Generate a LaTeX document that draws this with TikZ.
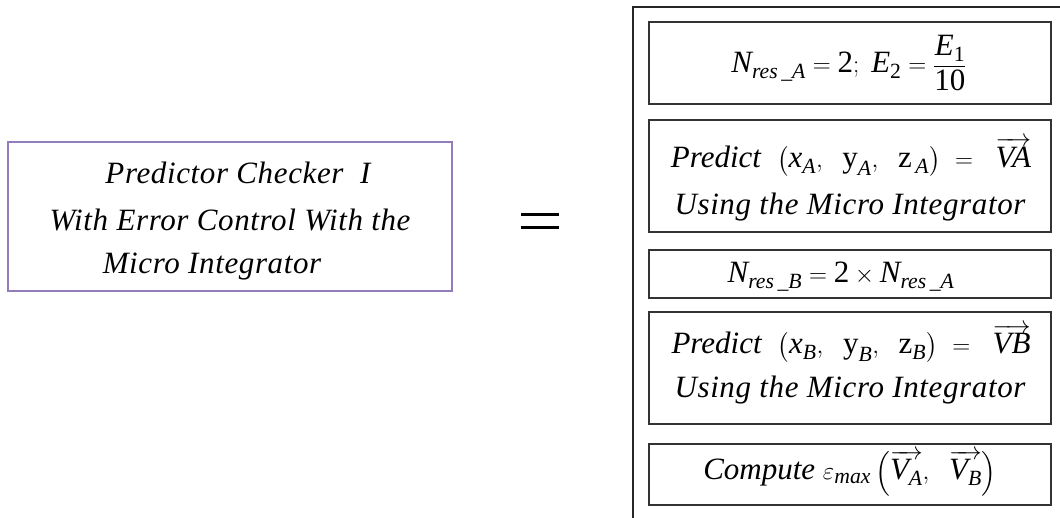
\documentclass[tikz,border=0pt]{standalone}
\usepackage{amsmath}
\usepackage{fontspec}
\setmainfont{Liberation Serif}
\newfontfamily\spacedfont[LetterSpace=2]{Liberation Serif}
\newcommand{\mi}[1]{\textit{#1}}
\newcommand{\mup}[1]{\textup{#1}}
\definecolor{lavender}{RGB}{145,125,185}

\begin{document}
\begin{tikzpicture}[x=1pt,y=-1pt,
  stepbox/.style={draw=black!80,line width=1.6pt},
  outerbox/.style={draw=black!85,line width=1.6pt},
  titlebox/.style={draw=lavender,line width=1.4pt},
  txt/.style={inner sep=0pt,font=\fontsize{31}{36}\selectfont\spacedfont\itshape},
  eqn/.style={inner sep=0pt,font=\fontsize{31}{36}\selectfont}
]
\useasboundingbox (0,0) rectangle (1060,517);

% title block
\draw[titlebox] (8,142) rectangle (452,291);
\node[txt] (t1) at (238,173) {Predictor Checker~~I};
\node[txt] (t2) at (230,220) {With Error Control With the};
\node[txt] (t3) at (212,267) {Micro Integrator};

% equals sign
\coordinate (eqL1) at (521,214);
\coordinate (eqR1) at (559,214);
\coordinate (eqL2) at (521,227);
\coordinate (eqR2) at (559,227);
\draw[line width=3pt] (eqL1) -- (eqR1);
\draw[line width=3pt] (eqL2) -- (eqR2);

% enclosing frame, running past the page edge
\draw[outerbox] (1070,7) -- (633,7) -- (633,527);

% step boxes
\draw[stepbox] (649,22) rectangle (1051,104);
\draw[stepbox] (649,120) rectangle (1051,232);
\draw[stepbox] (649,250) rectangle (1051,298);
\draw[stepbox] (649,312) rectangle (1051,424);
\draw[stepbox] (649,444) rectangle (1051,505);

\node[eqn] (s1) at (849,63)
  {$\mi{N}_{\mi{res\,\_A}}=\mup{2};\ \mi{E}_{\mup{2}}=\dfrac{\mi{E}_{\mup{1}}}{\mup{10}}$};

\node[eqn] (s2a) at (851,157)
  {\textit{Predict}\ \ $\left(\mi{x}_{\mi{A}},\ \ \mup{y}_{\mi{A}},\ \ \mup{z}_{\,\mi{A}}\right)\ =\ \ \overrightarrow{\mi{VA}}$};
\node[txt] (s2b) at (850,207) {Using the Micro Integrator};

\node[eqn] (s3) at (841,277)
  {$\mi{N}_{\mi{res\,\_B}}=\mup{2}\times\mi{N}_{\mi{res\,\_A}}$};

\node[eqn] (s4a) at (851,343)
  {\textit{Predict}\ \ $\left(\mi{x}_{\mi{B}},\ \ \mup{y}_{\mi{B}},\ \ \mup{z}_{\mi{B}}\right)\ =\ \ \overrightarrow{\mi{VB}}$};
\node[txt] (s4b) at (850,390) {Using the Micro Integrator};

\node[eqn] (s5) at (850,473)
  {\textit{Compute}\ $\varepsilon_{\mi{max}}\left(\overrightarrow{\mi{V}_{\mi{A}}},\ \ \overrightarrow{\mi{V}_{\mi{B}}}\right)$};
\end{tikzpicture}
\end{document}
